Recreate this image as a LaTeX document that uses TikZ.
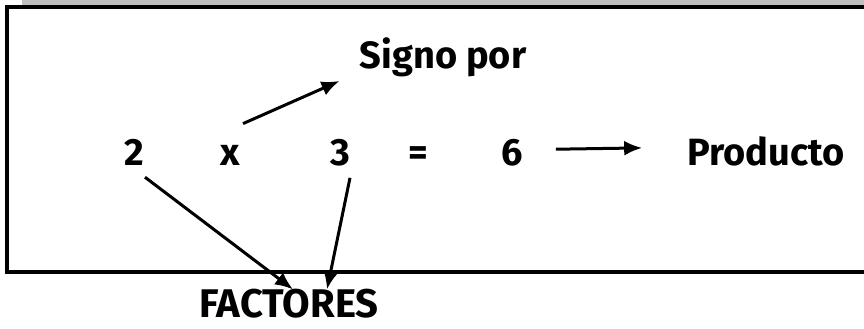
\documentclass[tikz,border=0pt]{standalone}
\usepackage{fontspec}
\setmainfont{Fira Sans}
\usetikzlibrary{arrows.meta}

\tikzset{
  cifra/.style={inner sep=0pt, anchor=base, font=\fontsize{38}{42}\selectfont\bfseries},
  flecha/.style={line width=3pt, -{Latex[length=18pt,width=15pt]}}
}

\begin{document}
\begin{tikzpicture}[x=1pt,y=-1pt]
        \useasboundingbox (0,0) rectangle (864,329);
        \fill[black!25] (22,0) rectangle (864,5);
        \draw[line width=4pt] (864,7) -- (7,7) -- (7,272) -- (864,272);
        \node[cifra] at (443,68) (signo) {Signo por};
        \node[cifra] at (134,165) (dos) {2};
        \node[cifra] at (230,165) (por) {x};
        \node[cifra] at (340,165) (tres) {3};
        \node[cifra] at (418,165) (igual) {=};
        \node[cifra] at (512,165) (seis) {6};
        \node[cifra] at (766,165) (producto) {Producto};
        \node[cifra, font=\fontsize{40}{44}\selectfont\bfseries] at (289,317) (factores) {FACTORES};
        \draw[flecha] ([shift={(13,-21)}]por.north) -- ([shift={(-20,13)}]signo.base west);
        \draw[flecha] ([shift={(33,-3)}]seis.east) -- ([shift={(-45,-3)}]producto.west);
        \draw[flecha] ([shift={(11,12)}]dos.south) -- ([shift={(4,1)}]factores.north);
        \draw[flecha] ([shift={(10,12)}]tres.south) -- ([shift={(38,1)}]factores.north);
    \end{tikzpicture}
\end{document}
